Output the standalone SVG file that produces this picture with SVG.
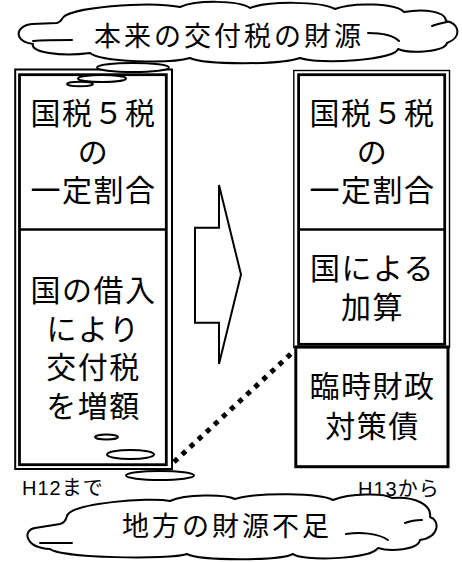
<svg xmlns="http://www.w3.org/2000/svg" width="462" height="562" viewBox="0 0 462 562">
<style>
.thin{fill:none;stroke:#000;stroke-width:2}
.thick{fill:none;stroke:#000;stroke-width:2.8}
.div{stroke:#000;stroke-width:2.6}
.t{font-family:"Noto Sans CJK JP",sans-serif;font-size:30px;fill:#000;text-anchor:middle;letter-spacing:1.5px}
.ct{font-family:"Noto Sans CJK JP",sans-serif;font-size:27px;fill:#000;text-anchor:middle;letter-spacing:3px}
.lbl{font-family:"Liberation Sans","Noto Sans CJK JP",sans-serif;font-size:20px;fill:#000}
.cloud{fill:#fff;stroke:#000;stroke-width:2;stroke-linejoin:round}
.inner{fill:none;stroke:#000;stroke-width:2;stroke-linecap:round}
.bub{fill:#fff;stroke:#000;stroke-width:2}
</style>
<rect width="462" height="562" fill="#fff"/>
<g id="box-left">
<rect x="15.2" y="69.5" width="156.8" height="399.5" class="thin"/>
<rect x="19.5" y="74.7" width="146.8" height="390" class="thick"/>
<line x1="19.5" y1="229.5" x2="166.3" y2="229.5" class="div"/>
<text class="t"><tspan x="93.5" y="124.3">国税５税</tspan><tspan x="93.5" y="162.8">の</tspan><tspan x="93.5" y="201.3">一定割合</tspan></text>
<text class="t"><tspan x="93.5" y="301">国の借入</tspan><tspan x="93.5" y="339.5">により</tspan><tspan x="93.5" y="377.7">交付税</tspan><tspan x="93.5" y="416.8">を増額</tspan></text>
</g>
<g id="box-right">
<rect x="293.8" y="70.5" width="155.7" height="277" class="thin" style="stroke-width:1.4"/>
<rect x="298.6" y="74.7" width="146.1" height="269.6" class="thick"/>
<line x1="298.6" y1="229.5" x2="444.7" y2="229.5" class="div"/>
<text class="t"><tspan x="372.5" y="124.3">国税５税</tspan><tspan x="372.5" y="162.8">の</tspan><tspan x="372.5" y="201.3">一定割合</tspan></text>
<text class="t"><tspan x="372.5" y="279.3">国による</tspan><tspan x="372.5" y="317.7">加算</tspan></text>
</g>
<g id="box-bond">
<rect x="295.8" y="347" width="152.2" height="119.7" fill="none" stroke="#000" stroke-width="3"/>
<text class="t"><tspan x="372.5" y="396.5">臨時財政</tspan><tspan x="372.5" y="436.8">対策債</tspan></text>
</g>
<g id="arrow">
<polygon points="195,227.7 219,227.7 219,185 241,274.5 219,364 219,322.7 195,322.7" fill="#fff" stroke="#000" stroke-width="2"/>
</g>
<g id="connectors">
<line x1="174" y1="462" x2="294" y2="351" stroke="#000" stroke-width="5" stroke-dasharray="5 6"/>
</g>
<g id="labels">
<text class="lbl" x="22" y="495" letter-spacing="1">H12まで</text>
<text class="lbl" x="358" y="496" letter-spacing="1">H13から</text>
</g>
<g id="cloud-top">
<ellipse class="bub" cx="133" cy="67.5" rx="36" ry="4.5"/>
<ellipse class="bub" cx="102" cy="78.5" rx="24" ry="3.5"/>
<ellipse class="bub" cx="80" cy="84" rx="13" ry="2.3"/>
<path class="cloud" d="M62,19 C66,7 150,1 180,7 C196,0 238,0 250,8 C268,1 320,1 335,9 C352,2 396,3 404,12 C425,8 446,12 446,21 C460,23 462,38 447,43 C445,52 410,54 398,49 C395,60 320,65 300,58 C280,65 205,65 190,58 C170,64 100,62 90,53 C60,57 30,52 33,44 C14,42 14,26 32,24 L57,23 C60,22 61,21 62,19 Z"/>
<path class="inner" d="M33,41 C45,40 60,40 72,40 M368,33 C380,33 392,34 399,41 M432,26 C437,24 442,23 447,22"/>
<text class="ct" x="229" y="46">本来の交付税の財源</text>
</g>
<g id="cloud-bottom">
<ellipse class="bub" cx="106.5" cy="437" rx="11.5" ry="2.5"/>
<ellipse class="bub" cx="130.5" cy="454.5" rx="23.5" ry="4.5"/>
<ellipse class="bub" cx="160" cy="475.5" rx="34" ry="4.5"/>
<path class="cloud" d="M67,516 C70,503 150,497 170,501 C185,494 225,494 235,499 C260,492 320,493 333,500 C350,493 385,493 392,498 C415,496 432,505 430,517 C440,520 440,537 420,540 C418,550 390,552 378,548 C370,560 300,561 293,554 C280,561 200,561 187,554 C170,560 60,558 50,549 C25,548 22,530 35,528 L60,524 C64,523 66,520 67,516 Z"/>
<path class="inner" d="M40,543 L72,543 M346,534 C360,532 378,533 388,540 M405,523 C410,521 417,520 422,520"/>
<text class="ct" x="227" y="536">地方の財源不足</text>
</g>
</svg>
